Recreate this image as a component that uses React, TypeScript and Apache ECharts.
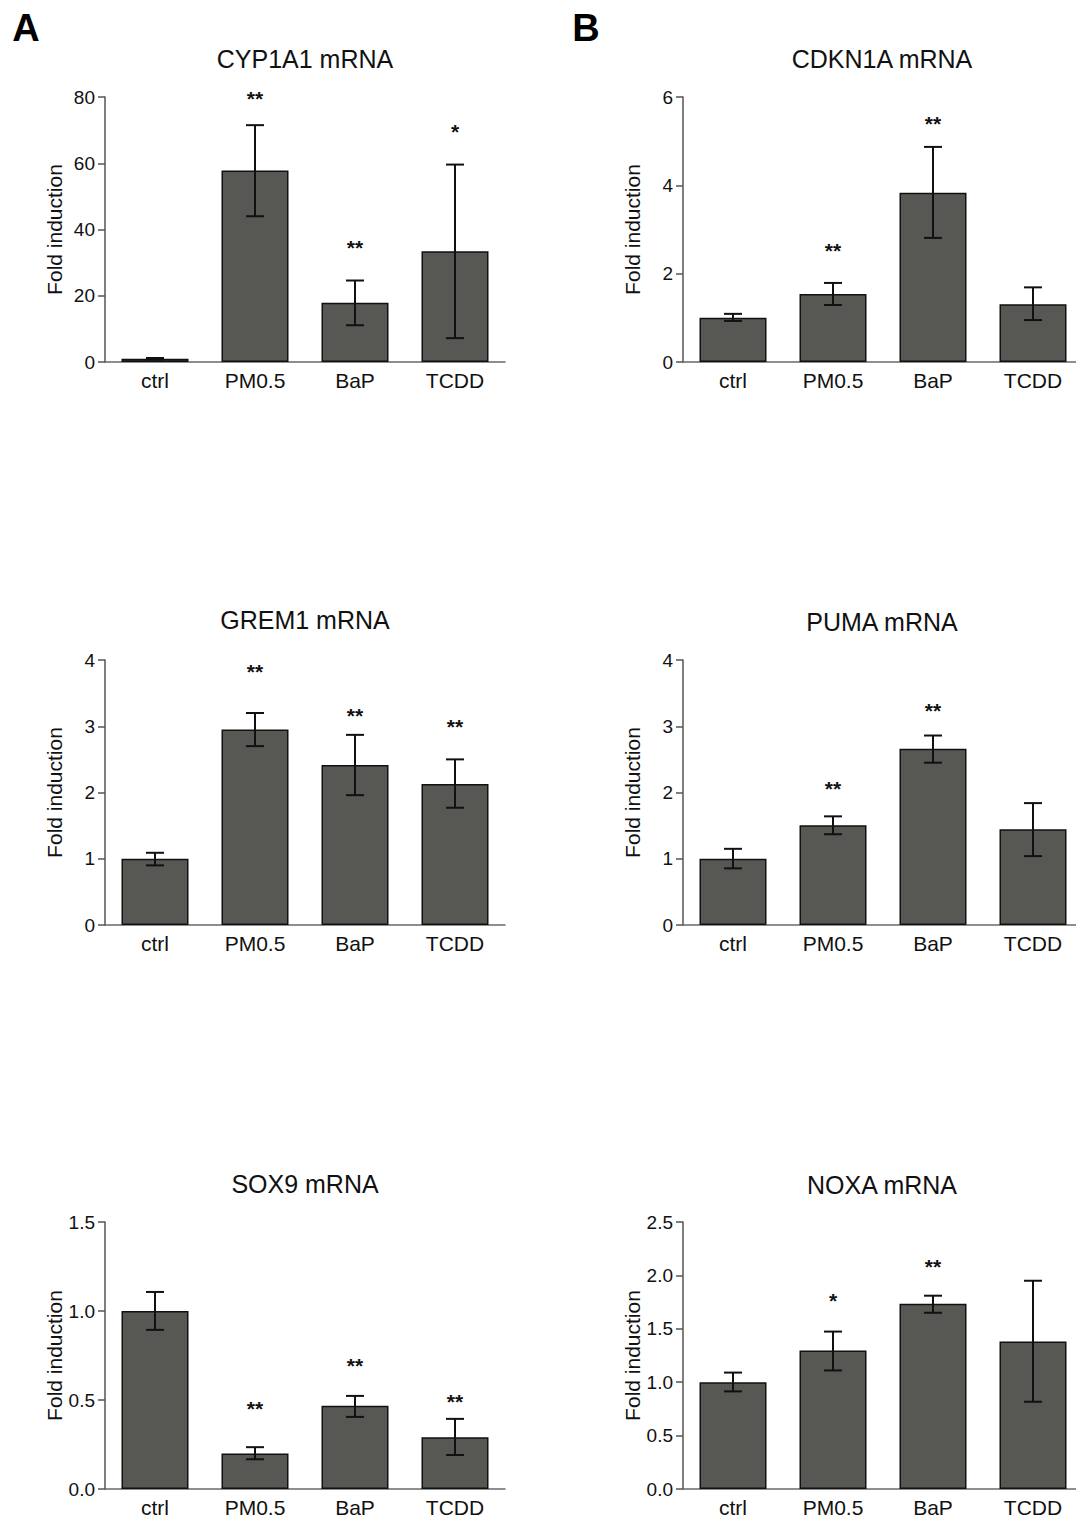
import React, { useEffect, useRef } from "react";
import * as echarts from "echarts";

const categories = ["ctrl", "PM0.5", "BaP", "TCDD"];

const cyp1a1Mean = [1.0, 57.8, 17.9, 33.4];
const cyp1a1Lo = [0.8, 44.0, 11.1, 7.2];
const cyp1a1Hi = [1.2, 71.5, 24.6, 59.6];
const cyp1a1Stars = ["", "**", "**", "*"];
const cyp1a1StarY = [0, 80.0, 34.9, 69.9];

const cdkn1aMean = [1.0, 1.54, 3.83, 1.31];
const cdkn1aLo = [0.93, 1.29, 2.81, 0.95];
const cdkn1aHi = [1.09, 1.79, 4.87, 1.69];
const cdkn1aStars = ["", "**", "**", ""];
const cdkn1aStarY = [0, 2.55, 5.42, 0];

const grem1Mean = [1.0, 2.95, 2.415, 2.13];
const grem1Lo = [0.9, 2.7, 1.96, 1.77];
const grem1Hi = [1.09, 3.2, 2.87, 2.5];
const grem1Stars = ["", "**", "**", "**"];
const grem1StarY = [0, 3.84, 3.17, 3.01];

const pumaMean = [1.0, 1.505, 2.66, 1.445];
const pumaLo = [0.855, 1.37, 2.45, 1.04];
const pumaHi = [1.15, 1.64, 2.86, 1.84];
const pumaStars = ["", "**", "**", ""];
const pumaStarY = [0, 2.07, 3.26, 0];

const sox9Mean = [1.0, 0.2, 0.467, 0.291];
const sox9Lo = [0.894, 0.167, 0.405, 0.191];
const sox9Hi = [1.107, 0.235, 0.523, 0.394];
const sox9Stars = ["", "**", "**", "**"];
const sox9StarY = [0, 0.456, 0.697, 0.495];

const noxaMean = [1.0, 1.296, 1.734, 1.38];
const noxaLo = [0.914, 1.11, 1.65, 0.817];
const noxaHi = [1.09, 1.474, 1.81, 1.95];
const noxaStars = ["", "*", "**", ""];
const noxaStarY = [0, 1.775, 2.094, 0];

const yMax = [80, 6, 4, 4, 1.5, 2.5];
const yInterval = [20, 2, 1, 1, 0.5, 0.5];
const yDecimals = [0, 0, 0, 0, 1, 1];
const titles = ["CYP1A1 mRNA", "CDKN1A mRNA", "GREM1 mRNA", "PUMA mRNA", "SOX9 mRNA", "NOXA mRNA"];
const panelLetters = ["A", "B"];

const FONT = "'Liberation Sans', Arial, Helvetica, sans-serif";

const panelData = [
  { mean: cyp1a1Mean, lo: cyp1a1Lo, hi: cyp1a1Hi, stars: cyp1a1Stars, starY: cyp1a1StarY },
  { mean: cdkn1aMean, lo: cdkn1aLo, hi: cdkn1aHi, stars: cdkn1aStars, starY: cdkn1aStarY },
  { mean: grem1Mean, lo: grem1Lo, hi: grem1Hi, stars: grem1Stars, starY: grem1StarY },
  { mean: pumaMean, lo: pumaLo, hi: pumaHi, stars: pumaStars, starY: pumaStarY },
  { mean: sox9Mean, lo: sox9Lo, hi: sox9Hi, stars: sox9Stars, starY: sox9StarY },
  { mean: noxaMean, lo: noxaLo, hi: noxaHi, stars: noxaStars, starY: noxaStarY },
];

// layout (positions)
const colLeft = [105, 683];
const rowTop = [97, 660, 1222];
const rowHeight = [265, 265, 267];
const gridWidth = 400;
const titleCenterX = [305, 882];
const titleCenterY = [[58.5, 58.5], [620, 622], [1183.5, 1185]];

export default function App() {
  const ref = useRef<HTMLDivElement>(null);

  useEffect(() => {
    document.body.style.margin = "0";
    const chart = echarts.init(ref.current!, null, { renderer: "svg" });

    const grids: any[] = [];
    const xAxes: any[] = [];
    const yAxes: any[] = [];
    const series: any[] = [];
    const graphics: any[] = [];

    panelData.forEach((p, i) => {
      const col = i % 2;
      const row = Math.floor(i / 2);
      grids.push({
        left: colLeft[col],
        top: rowTop[row],
        width: gridWidth,
        height: rowHeight[row],
        containLabel: false,
      });
      xAxes.push({
        type: "category",
        gridIndex: i,
        data: categories,
        axisLine: { show: true, lineStyle: { color: "#6a6a6a", width: 1.5 } },
        axisTick: { show: false },
        axisLabel: { color: "#111", fontSize: 21, fontFamily: FONT, margin: 8 },
        splitLine: { show: false },
      });
      const dec = yDecimals[i];
      yAxes.push({
        type: "value",
        gridIndex: i,
        min: 0,
        max: yMax[i],
        interval: yInterval[i],
        name: "Fold induction",
        nameLocation: "middle",
        nameGap: 40,
        nameTextStyle: { color: "#111", fontSize: 21, fontFamily: FONT },
        axisLine: { show: true, lineStyle: { color: "#555", width: 1.5 } },
        axisTick: { show: true, length: 7, lineStyle: { color: "#555", width: 1.5 } },
        axisLabel: {
          color: "#111",
          fontSize: 19,
          fontFamily: FONT,
          margin: 10,
          formatter: (v: number) => v.toFixed(dec),
        },
        splitLine: { show: false },
      });
      series.push({
        type: "bar",
        xAxisIndex: i,
        yAxisIndex: i,
        data: p.mean,
        barWidth: "67%",
        itemStyle: { color: "#575853", borderColor: "#111", borderWidth: 1.5 },
        silent: true,
      });
      series.push({
        type: "custom",
        xAxisIndex: i,
        yAxisIndex: i,
        data: p.mean.map((_, k) => [k, p.lo[k], p.hi[k]]),
        encode: { x: 0, y: [1, 2] },
        z: 5,
        renderItem: (params: any, api: any) => {
          const lo = api.coord([api.value(0), api.value(1)]);
          const hi = api.coord([api.value(0), api.value(2)]);
          const half = 9;
          const st = { stroke: "#111", lineWidth: 2 };
          return {
            type: "group",
            children: [
              { type: "line", shape: { x1: lo[0], y1: lo[1], x2: hi[0], y2: hi[1] }, style: st },
              { type: "line", shape: { x1: lo[0] - half, y1: lo[1], x2: lo[0] + half, y2: lo[1] }, style: st },
              { type: "line", shape: { x1: hi[0] - half, y1: hi[1], x2: hi[0] + half, y2: hi[1] }, style: st },
            ],
          };
        },
      });
      series.push({
        type: "custom",
        xAxisIndex: i,
        yAxisIndex: i,
        data: p.starY.map((v, k) => [k, v]),
        encode: { x: 0, y: 1 },
        z: 6,
        renderItem: (params: any, api: any) => {
          const txt = p.stars[params.dataIndex];
          if (!txt) return null;
          const c = api.coord([api.value(0), api.value(1)]);
          return {
            type: "text",
            x: c[0],
            y: c[1] + 1,
            style: {
              text: txt,
              fill: "#111",
              font: `bold 21px ${FONT}`,
              align: "center",
              verticalAlign: "middle",
            },
          };
        },
      });
      graphics.push({
        type: "text",
        x: titleCenterX[col],
        y: titleCenterY[row][col],
        style: {
          text: titles[i],
          fill: "#111",
          font: `25px ${FONT}`,
          align: "center",
          verticalAlign: "middle",
        },
      });
    });

    graphics.push({
      type: "text",
      x: 26,
      y: 28,
      style: { text: panelLetters[0], fill: "#000", font: `bold 38px ${FONT}`, align: "center", verticalAlign: "middle" },
    });
    graphics.push({
      type: "text",
      x: 586,
      y: 28,
      style: { text: panelLetters[1], fill: "#000", font: `bold 38px ${FONT}`, align: "center", verticalAlign: "middle" },
    });

    chart.setOption({
      animation: false,
      backgroundColor: "#fff",
      grid: grids,
      xAxis: xAxes,
      yAxis: yAxes,
      series,
      graphic: graphics,
    });

    return () => chart.dispose();
  }, []);

  return (
    <div style={{ width: 1076, height: 1521, overflow: "hidden", position: "relative" }}>
      <div ref={ref} style={{ width: 1100, height: 1521 }} />
    </div>
  );
}
